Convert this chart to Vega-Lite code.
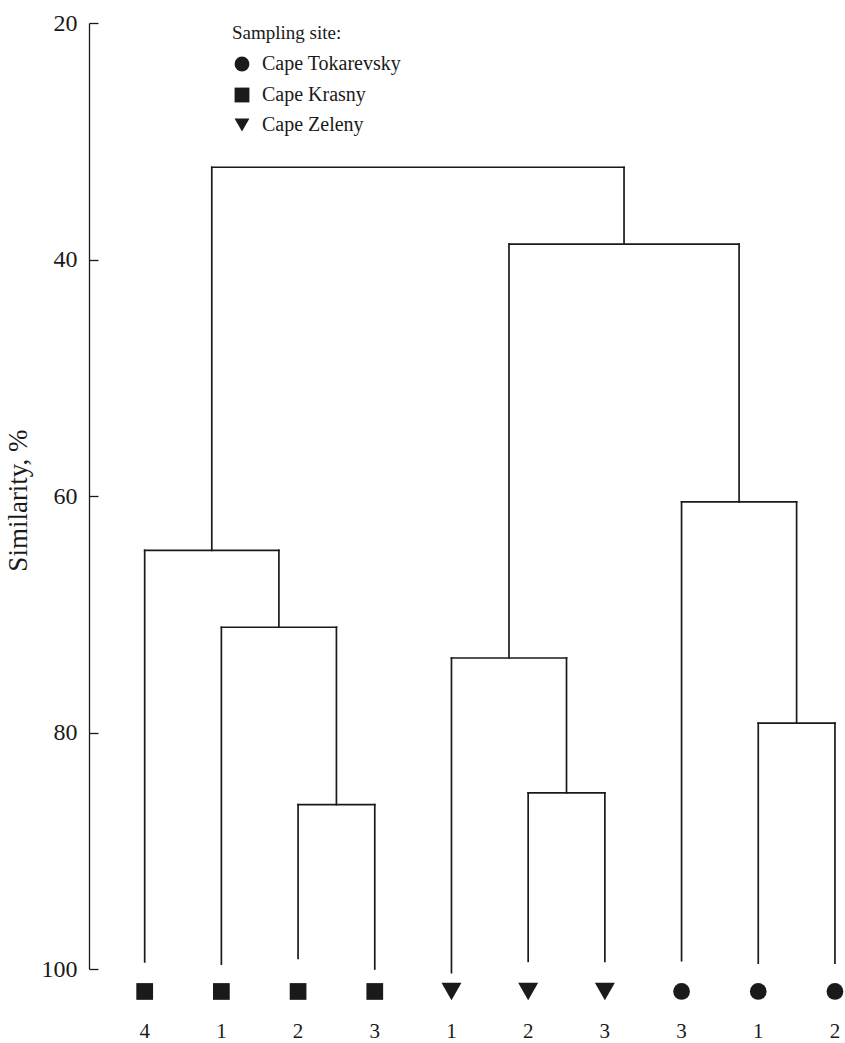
{
  "$schema": "https://vega.github.io/schema/vega-lite/v6.json",
  "width": 756,
  "height": 946,
  "autosize": "none",
  "padding": {"left": 89, "top": 23, "right": 0, "bottom": 74},
  "background": "white",
  "config": {"view": {"stroke": null}, "font": "Liberation Serif"},
  "datasets": {
    "segments": [
      {"x1": 1, "x2": 1, "y1": 64.6, "y2": 99.4},
      {"x1": 2, "x2": 2, "y1": 71.1, "y2": 99.6},
      {"x1": 3, "x2": 3, "y1": 86.1, "y2": 99.1},
      {"x1": 4, "x2": 4, "y1": 86.1, "y2": 100.0},
      {"x1": 5, "x2": 5, "y1": 73.7, "y2": 100.3},
      {"x1": 6, "x2": 6, "y1": 85.1, "y2": 99.35},
      {"x1": 7, "x2": 7, "y1": 85.1, "y2": 99.35},
      {"x1": 8, "x2": 8, "y1": 60.5, "y2": 99.3},
      {"x1": 9, "x2": 9, "y1": 79.2, "y2": 99.5},
      {"x1": 10, "x2": 10, "y1": 79.2, "y2": 99.5},
      {"x1": 3, "x2": 4, "y1": 86.1, "y2": 86.1},
      {"x1": 2, "x2": 3.5, "y1": 71.1, "y2": 71.1},
      {"x1": 1, "x2": 2.75, "y1": 64.6, "y2": 64.6},
      {"x1": 6, "x2": 7, "y1": 85.1, "y2": 85.1},
      {"x1": 5, "x2": 6.5, "y1": 73.7, "y2": 73.7},
      {"x1": 9, "x2": 10, "y1": 79.2, "y2": 79.2},
      {"x1": 8, "x2": 9.5, "y1": 60.5, "y2": 60.5},
      {"x1": 5.75, "x2": 8.75, "y1": 38.7, "y2": 38.7},
      {"x1": 1.875, "x2": 7.25, "y1": 32.2, "y2": 32.2},
      {"x1": 3.5, "x2": 3.5, "y1": 71.1, "y2": 86.1},
      {"x1": 2.75, "x2": 2.75, "y1": 64.6, "y2": 71.1},
      {"x1": 1.875, "x2": 1.875, "y1": 32.2, "y2": 64.6},
      {"x1": 6.5, "x2": 6.5, "y1": 73.7, "y2": 85.1},
      {"x1": 5.75, "x2": 5.75, "y1": 38.7, "y2": 73.7},
      {"x1": 9.5, "x2": 9.5, "y1": 60.5, "y2": 79.2},
      {"x1": 8.75, "x2": 8.75, "y1": 38.7, "y2": 60.5},
      {"x1": 7.25, "x2": 7.25, "y1": 32.2, "y2": 38.7}
    ],
    "leaves": [
      {"pos": 1, "site": "Cape Krasny", "sample": "4"},
      {"pos": 2, "site": "Cape Krasny", "sample": "1"},
      {"pos": 3, "site": "Cape Krasny", "sample": "2"},
      {"pos": 4, "site": "Cape Krasny", "sample": "3"},
      {"pos": 5, "site": "Cape Zeleny", "sample": "1"},
      {"pos": 6, "site": "Cape Zeleny", "sample": "2"},
      {"pos": 7, "site": "Cape Zeleny", "sample": "3"},
      {"pos": 8, "site": "Cape Tokarevsky", "sample": "3"},
      {"pos": 9, "site": "Cape Tokarevsky", "sample": "1"},
      {"pos": 10, "site": "Cape Tokarevsky", "sample": "2"}
    ]
  },
  "layer": [
    {
      "data": {"name": "segments"},
      "mark": {"type": "rule", "color": "#1a1a1a", "strokeWidth": 1.7, "strokeCap": "square"},
      "encoding": {
        "x": {"field": "x1", "type": "quantitative", "scale": {"domain": [0.274, 10.131], "nice": false, "zero": false}, "axis": null},
        "x2": {"field": "x2"},
        "y": {
          "field": "y1", "type": "quantitative",
          "scale": {"domain": [20, 100], "reverse": true, "nice": false, "zero": false},
          "axis": {
            "values": [20, 40, 60, 80, 100],
            "title": "Similarity, %",
            "grid": false,
            "domainColor": "#1a1a1a", "domainWidth": 1.3,
            "tickColor": "#1a1a1a", "tickWidth": 1.3, "tickSize": -9,
            "labelPadding": 21, "labelFont": "Liberation Serif", "labelFontSize": 24, "labelColor": "#1a1a1a",
            "titleFont": "Liberation Serif", "titleFontSize": 27, "titleFontWeight": "normal", "titleColor": "#1a1a1a",
            "titleX": -71, "titleY": 477, "titleAngle": -90, "titleAlign": "center", "titleBaseline": "middle"
          }
        },
        "y2": {"field": "y2"}
      }
    },
    {
      "data": {"name": "leaves"},
      "transform": [{"filter": "datum.site !== 'Cape Zeleny'"}],
      "mark": {"type": "point", "filled": true, "opacity": 1, "color": "#1a1a1a", "size": 280},
      "encoding": {
        "x": {"field": "pos", "type": "quantitative"},
        "y": {"datum": 101.9},
        "shape": {
          "field": "site", "type": "nominal",
          "scale": {"domain": ["Cape Tokarevsky", "Cape Krasny", "Cape Zeleny"], "range": ["circle", "square", "triangle-down"]},
          "legend": {
            "title": "Sampling site:", "orient": "none", "legendX": 143, "legendY": 1, "padding": 0,
            "titleFont": "Liberation Serif", "titleFontSize": 19, "titleFontWeight": "normal", "titleColor": "#1a1a1a", "titlePadding": 11,
            "labelFont": "Liberation Serif", "labelFontSize": 20, "labelColor": "#1a1a1a", "labelOffset": 10,
            "rowPadding": 9, "symbolSize": 220, "symbolFillColor": "#1a1a1a", "symbolStrokeColor": "#1a1a1a"
          }
        }
      }
    },
    {
      "data": {"name": "leaves"},
      "transform": [{"filter": "datum.site === 'Cape Zeleny'"}],
      "mark": {"type": "point", "filled": true, "opacity": 1, "color": "#1a1a1a", "size": 400},
      "encoding": {
        "x": {"field": "pos", "type": "quantitative"},
        "y": {"datum": 101.9},
        "shape": {"field": "site", "type": "nominal"}
      }
    },
    {
      "data": {"name": "leaves"},
      "mark": {"type": "text", "font": "Liberation Serif", "fontSize": 21, "color": "#1a1a1a", "baseline": "middle", "align": "center"},
      "encoding": {
        "x": {"field": "pos", "type": "quantitative"},
        "y": {"datum": 105.3},
        "text": {"field": "sample", "type": "nominal"}
      }
    }
  ]
}
